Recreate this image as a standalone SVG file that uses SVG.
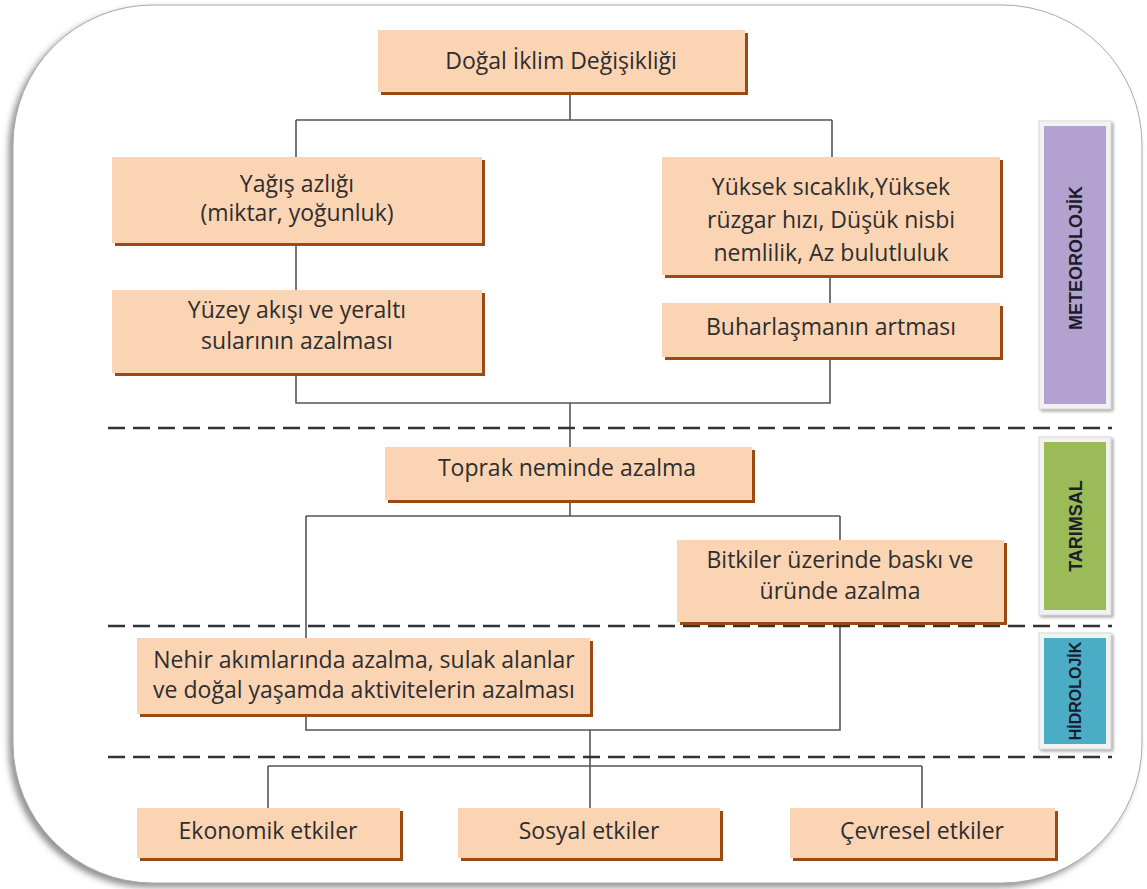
<svg xmlns="http://www.w3.org/2000/svg" width="1147" height="889" viewBox="0 0 1147 889">
<style>
.box{fill:#FBD4B4;}
.sh{fill:#9A4A12;}
.t{font-family:"Open Sans","Liberation Sans",Arial,sans-serif;font-size:23px;fill:#2e2e2e;text-anchor:middle;}
.side{font-family:"Liberation Sans",Arial,sans-serif;font-size:18px;font-weight:bold;fill:#1c1c2c;text-anchor:middle;}
.frm{fill:#f2f2f2;stroke:#d8d8d8;stroke-width:1;}
.c{fill:none;stroke:#555;stroke-width:1.6;}
.d{fill:none;stroke:#333;stroke-width:2.6;stroke-dasharray:17 8;}
</style>
<defs>
<filter id="fs" x="-5%" y="-5%" width="110%" height="110%">
<feDropShadow dx="-4" dy="4" stdDeviation="3" flood-color="#777" flood-opacity="0.8"/>
</filter>
<filter id="ss" x="-20%" y="-10%" width="140%" height="120%">
<feDropShadow dx="2" dy="2" stdDeviation="1.5" flood-color="#888" flood-opacity="0.7"/>
</filter>
</defs>
<rect x="0" y="0" width="1147" height="889" fill="#fff"/>
<rect x="13" y="5" width="1129" height="878" rx="140" ry="140" fill="#fff" stroke="#aaa" stroke-width="1" filter="url(#fs)"/>

<g id="connectors">
<path class="c" d="M570 92 V120 M296 120 H832 M296 120 V157 M832 120 V157"/>
<path class="c" d="M296 243 V290 M830 275 V303"/>
<path class="c" d="M296 373 V403 H830 V357 M570 403 V447"/>
<path class="c" d="M570 500 V516 M306 516 H840 M306 516 V638 M840 516 V540"/>
<path class="c" d="M306 714 V730 H840 V622 M590 730 V808 M268 766 H922 M268 766 V808 M922 766 V808"/>
<path class="d" d="M108 428 H1112"/>
<path class="d" d="M108 626 H1112"/>
<path class="d" d="M108 757 H1112"/>
</g>

<g id="n-dogal">
<rect class="sh" x="381" y="33" width="367" height="62"/>
<rect class="box" x="378" y="30" width="367" height="62"/>
<text class="t" x="561" y="69">Doğal İklim Değişikliği</text>
</g>
<g id="n-yagis">
<rect class="sh" x="115" y="160" width="370" height="86"/>
<rect class="box" x="112" y="157" width="370" height="86"/>
<text class="t" x="297" y="192">Yağış azlığı</text>
<text class="t" x="297" y="221">(miktar, yoğunluk)</text>
</g>
<g id="n-yuksek">
<rect class="sh" x="665" y="160" width="338" height="118"/>
<rect class="box" x="662" y="157" width="338" height="118"/>
<text class="t" x="831" y="195">Yüksek sıcaklık,Yüksek</text>
<text class="t" x="831" y="228">rüzgar hızı, Düşük nisbi</text>
<text class="t" x="831" y="261">nemlilik, Az bulutluluk</text>
</g>
<g id="n-yuzey">
<rect class="sh" x="115" y="293" width="370" height="83"/>
<rect class="box" x="112" y="290" width="370" height="83"/>
<text class="t" x="297" y="318">Yüzey akışı ve yeraltı</text>
<text class="t" x="297" y="349">sularının azalması</text>
</g>
<g id="n-buhar">
<rect class="sh" x="665" y="306" width="338" height="54"/>
<rect class="box" x="662" y="303" width="338" height="54"/>
<text class="t" x="831" y="335">Buharlaşmanın artması</text>
</g>
<g id="n-toprak">
<rect class="sh" x="388" y="450" width="367" height="53"/>
<rect class="box" x="385" y="447" width="367" height="53"/>
<text class="t" x="567" y="476">Toprak neminde azalma</text>
</g>
<g id="n-bitki">
<rect class="sh" x="680" y="543" width="327" height="82"/>
<rect class="box" x="677" y="540" width="327" height="82"/>
<text class="t" x="840" y="568">Bitkiler üzerinde baskı ve</text>
<text class="t" x="840" y="599">üründe azalma</text>
</g>
<g id="n-nehir">
<rect class="sh" x="140" y="641" width="453" height="76"/>
<rect class="box" x="137" y="638" width="453" height="76"/>
<text class="t" x="364" y="668">Nehir akımlarında azalma, sulak alanlar</text>
<text class="t" x="364" y="698">ve doğal yaşamda aktivitelerin azalması</text>
</g>
<g id="n-ekonomik">
<rect class="sh" x="140" y="811" width="263" height="50"/>
<rect class="box" x="137" y="808" width="263" height="50"/>
<text class="t" x="268" y="839">Ekonomik etkiler</text>
</g>
<g id="n-sosyal">
<rect class="sh" x="461" y="811" width="262" height="50"/>
<rect class="box" x="458" y="808" width="262" height="50"/>
<text class="t" x="589" y="839">Sosyal etkiler</text>
</g>
<g id="n-cevresel">
<rect class="sh" x="793" y="811" width="265" height="50"/>
<rect class="box" x="790" y="808" width="265" height="50"/>
<text class="t" x="922" y="839">Çevresel etkiler</text>
</g>

<g id="s-meteo">
<rect class="frm" x="1039" y="121" width="72" height="288" filter="url(#ss)"/>
<rect x="1044" y="126" width="62" height="278" fill="#B3A2CF"/>
<text class="side" transform="translate(1082 258) rotate(-90)">METEOROLOJİK</text>
</g>
<g id="s-tarim">
<rect class="frm" x="1039" y="437" width="72" height="178" filter="url(#ss)"/>
<rect x="1044" y="442" width="62" height="168" fill="#9BBB59"/>
<text class="side" transform="translate(1082 526) rotate(-90)">TARIMSAL</text>
</g>
<g id="s-hidro">
<rect class="frm" x="1039" y="633" width="72" height="116" filter="url(#ss)"/>
<rect x="1044" y="638" width="62" height="106" fill="#4BACC6"/>
<text class="side" style="font-size:16px" transform="translate(1081 691) rotate(-90)">HİDROLOJİK</text>
</g>
</svg>
